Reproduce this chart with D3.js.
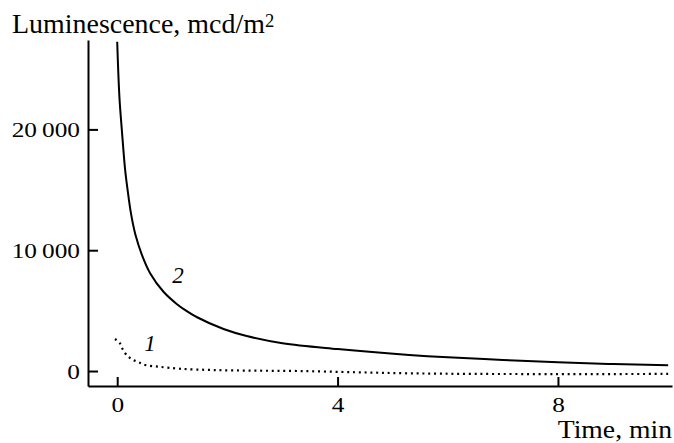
<!DOCTYPE html>
<html>
<head>
<meta charset="utf-8">
<script src="https://cdn.jsdelivr.net/npm/d3@7"></script>
<style>
  html, body { margin: 0; padding: 0; background: #fff; }
  svg { display: block; }
  text { font-family: "Liberation Serif", "Times New Roman", serif; fill: #000; }
</style>
</head>
<body>
<svg id="chart" width="674" height="443"></svg>
<script>
// Luminescence decay after excitation, mcd/m^2 vs time in minutes
const curve1Time  = [-0.04, 0.05, 0.10, 0.18, 0.28, 0.39, 0.51, 0.75, 1.14, 1.75, 2.5, 3.3, 4.3, 5.3, 6.5, 8.0, 9.0, 10.0];
const curve1Value = [2650, 2290, 1800, 1270, 935, 720, 500, 360, 190, 80, 30, 0, -100, -190, -240, -250, -250, -240];

const curve2Time  = [0, 0.04, 0.085, 0.145, 0.19, 0.25, 0.33, 0.45, 0.60, 0.84, 1.08, 1.2, 1.45, 1.93, 2.35, 3.0, 4.0, 5.3, 6.0, 7.0, 8.0, 9.0, 10.0];
const curve2Value = [27250, 22700, 19900, 16600, 14950, 13050, 11300, 9600, 8080, 6560, 5550, 5150, 4450, 3480, 2900, 2300, 1820, 1330, 1130, 920, 720, 580, 470];

const xTicks = [0, 4, 8];
const yTicks = [0, 10000, 20000];

const curveLabels = ["1", "2"];

const svg = d3.select("#chart");

const x = d3.scaleLinear().domain([-0.53, 10.07]).range([88, 672]);
const y = d3.scaleLinear().domain([-1240, 27400]).range([386, 40]);

// thousands separated by a thin space
const fmtY = v => v >= 10000 ? String(Math.floor(v / 1000)) + "\u2009" + String(v % 1000).padStart(3, "0") : String(v);

const yAxis = d3.axisLeft(y).tickValues(yTicks).tickFormat(fmtY)
  .tickSizeInner(-10).tickSizeOuter(0).tickPadding(8);
const xAxis = d3.axisBottom(x).tickValues(xTicks).tickFormat(d3.format("d"))
  .tickSizeInner(-9).tickSizeOuter(0).tickPadding(10);

const gy = svg.append("g").attr("transform", "translate(88,0)").call(yAxis);
const gx = svg.append("g").attr("transform", "translate(0,386)").call(xAxis);

[gy, gx].forEach(g => {
  g.select(".domain").attr("stroke", "#000").attr("stroke-width", 2);
  g.selectAll(".tick line").attr("stroke", "#000").attr("stroke-width", 2);
  g.selectAll(".tick text")
    .attr("font-family", "Liberation Serif, serif")
    .attr("font-size", 22)
    .attr("fill", "#000");
});

// slightly wide lettering: stretch tick labels horizontally about their anchor
gy.selectAll(".tick text")
  .attr("transform", "translate(-8,0) scale(1.15,1)")
  .attr("x", 0);
gx.selectAll(".tick text")
  .attr("transform", "scale(1.15,1)");

// axis titles
const yTitle = svg.append("text")
  .attr("transform", "translate(12,33) scale(1.035,1)")
  .attr("font-size", 27);
yTitle.append("tspan").text("Luminescence, mcd/m");
yTitle.append("tspan").attr("font-size", 18).attr("dy", -6).text("2");

svg.append("text")
  .attr("transform", "translate(672,437.5) scale(1.085,1)")
  .attr("text-anchor", "end")
  .attr("font-size", 25.5)
  .text("Time, min");

// curves
const line = d3.line()
  .x(d => x(d[0]))
  .y(d => y(d[1]))
  .curve(d3.curveCatmullRom.alpha(0.5));

const series1 = curve1Time.map((t, i) => [t, curve1Value[i]]);
const series2 = curve2Time.map((t, i) => [t, curve2Value[i]]);

svg.append("path")
  .datum(series1)
  .attr("d", line)
  .attr("fill", "none")
  .attr("stroke", "#000")
  .attr("stroke-width", 2.2)
  .attr("stroke-dasharray", "2,3.8");

svg.append("path")
  .datum(series2)
  .attr("d", line)
  .attr("fill", "none")
  .attr("stroke", "#000")
  .attr("stroke-width", 2);

// curve numbers, placed beside their curves
const labelAt = [[0.49, 1650], [1.0, 7300]];
svg.selectAll("text.curve-label")
  .data(curveLabels)
  .join("text")
  .attr("class", "curve-label")
  .attr("x", (d, i) => x(labelAt[i][0]))
  .attr("y", (d, i) => y(labelAt[i][1]))
  .attr("font-size", 23)
  .attr("font-style", "italic")
  .text(d => d);
</script>
</body>
</html>
